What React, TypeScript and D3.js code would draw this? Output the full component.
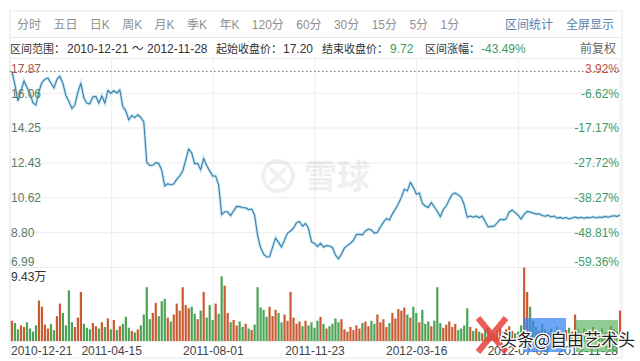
import * as d3 from 'd3';

const W = 640;
const H = 361;

const tabs = ['分时', '五日', '日K', '周K', '月K', '季K', '年K', '120分', '60分', '30分', '15分', '5分', '1分'];
const tools = ['区间统计', '全屏显示'];
const dateLabels = ['2010-12-21', '2011-04-15', '2011-08-01', '2011-11-23', '2012-03-16', '2012-07-09', '2012-11-28'];
const priceTicks = ['17.87', '16.06', '14.25', '12.43', '10.62', '8.80', '6.99'];
const pctTicks = ['3.92%', '-6.62%', '-17.17%', '-27.72%', '-38.27%', '-48.81%', '-59.36%'];
const startPrice = 17.2;
const endPrice = 9.72;
const changePct = '-43.49%';
const maxVolume = 9.43;

// daily closes (sampled), yuan
const closes = [
  17.2, 16.47, 15.66, 16.18, 16.71, 16.36, 16.06, 15.56, 15.45, 16.16,
  16.62, 16.79, 16.85, 16.59, 16.33, 16.78, 16.95, 16.57, 15.95, 15.64,
  15.26, 15.45, 16.12, 16.58, 15.81, 15.54, 15.51, 15.87, 15.9, 15.54,
  15.93, 15.54, 16.21, 16.06, 16.19, 16.07, 16.23, 15.36, 15.14, 14.67,
  14.9, 14.79, 14.94, 14.8, 14.57, 12.46, 12.3, 12.31, 12.45, 12.41,
  12.04, 11.23, 11.35, 11.3, 11.34, 11.58, 11.76, 12.01, 12.58, 13.16,
  12.96, 12.39, 12.41, 12.08, 12.67, 12.3, 12.02, 11.75, 11.75, 11.28,
  9.74, 9.89, 9.89, 9.69, 9.94, 10.17, 10.16, 10.1, 10.1, 10.0,
  10.04, 9.72, 8.66, 8.03, 7.69, 7.54, 7.55, 8.05, 8.52, 8.3,
  8.05, 8.42, 8.78, 8.89, 9.04, 9.32, 9.38, 9.14, 9.28, 9.03,
  8.32, 8.25, 8.08, 8.25, 8.05, 8.13, 8.11, 8.03, 7.64, 7.44,
  7.68, 8.01, 8.13, 8.25, 8.4, 8.71, 8.72, 8.69, 8.89, 8.99,
  8.94, 8.78, 8.81, 9.1, 9.34, 9.54, 9.46, 9.78, 10.02, 10.31,
  10.64, 11.07, 10.98, 11.42, 11.17, 10.81, 10.87, 10.34, 10.18, 10.12,
  10.37, 10.15, 9.92, 9.63, 10.01, 10.2, 10.52, 10.8, 10.87, 10.77,
  10.64, 10.24, 9.61, 9.67, 9.61, 9.67, 9.58, 9.67, 9.37, 9.1,
  9.13, 9.14, 9.32, 9.5, 9.47, 9.52, 9.88, 9.98, 9.85, 9.71,
  9.51, 9.76, 9.91, 9.88, 9.82, 9.77, 9.79, 9.7, 9.66, 9.71,
  9.62, 9.67, 9.56, 9.6, 9.54, 9.59, 9.52, 9.57, 9.62, 9.56,
  9.61, 9.55, 9.6, 9.58, 9.63, 9.57, 9.62, 9.6, 9.65, 9.61,
  9.66, 9.68, 9.65, 9.72,
];

// daily volume, 万手
const volumes = [
  2.6, 2.3, 1.5, 2.0, 1.8, 2.4, 1.6, 1.2, 2.0, 5.2,
  4.4, 2.1, 1.6, 2.2, 1.4, 3.2, 4.8, 3.6, 2.0, 6.5,
  2.4, 1.8, 3.0, 6.3, 2.2, 1.7, 1.5, 2.3, 1.9, 1.6,
  2.4, 1.8, 2.9, 1.5, 2.7, 1.4, 1.9, 2.2, 3.1, 1.7,
  1.3, 1.1, 1.5, 2.0, 3.4, 6.9, 2.8, 3.6, 4.9, 3.2,
  5.1, 5.4, 3.0, 2.5, 3.4, 4.8, 3.9, 6.9, 4.6, 4.2,
  4.4, 3.5, 2.8, 3.9, 6.3, 3.0, 4.6, 2.7, 4.8, 3.5,
  8.3, 7.1, 3.6, 2.4, 2.7, 2.0, 2.5, 1.8, 2.2, 1.6,
  1.4, 2.1, 6.9, 4.3, 4.0, 3.1, 4.4, 3.2, 4.0, 3.6,
  2.4, 3.4, 2.6, 6.3, 3.0, 2.2, 2.5, 1.9, 2.6, 2.0,
  2.4, 1.7, 2.6, 3.1, 2.2, 1.6, 1.9, 2.2, 2.9, 2.4,
  2.8, 1.5, 1.2, 1.8, 1.4, 2.0, 1.6, 2.3, 2.5, 1.9,
  2.6, 2.2, 3.4, 2.4, 2.8, 1.8, 2.3, 3.6, 2.9, 4.1,
  3.9, 4.3, 3.4, 3.0, 4.4, 3.6, 2.4, 4.0, 2.2, 2.5,
  1.9, 2.6, 6.9, 2.3, 1.7, 2.1, 2.5, 1.8, 2.2, 1.4,
  1.6, 2.0, 4.2, 1.8, 1.3, 1.6, 1.2, 1.0, 1.5, 1.7,
  1.1, 0.9, 1.3, 1.6, 1.2, 1.5, 1.9, 1.3, 1.0, 1.2,
  2.0, 9.43, 6.3, 4.4, 2.6, 1.8, 1.3, 2.2, 1.5, 1.1,
  1.6, 1.2, 1.8, 1.3, 1.0, 1.4, 1.7, 1.2, 3.4, 1.5,
  1.1, 1.6, 1.3, 1.0, 1.8, 1.4, 1.2, 1.6, 1.1, 1.3,
  1.9, 1.5, 1.2, 3.9,
];

const FONT = '"Liberation Sans", Arial, "Noto Sans CJK SC", sans-serif';
const RED = '#c9503a';
const GREEN = '#3f9a66';
const UP_BAR = '#c95a32';
const DOWN_BAR = '#4aa255';

// rough text width at 12px
const textW = (s: string) =>
  Array.from(s).reduce((w, c) => w + (/[0-9]/.test(c) ? 6.67 : /[A-Z]/.test(c) ? 8 : 12), 0);

const left = 10;
const right = 620;
const priceTop = 58.5;
const priceBottom = 267.5;
const volBottom = 341;

export default function App() {
  const x = d3.scaleLinear().domain([0, closes.length - 1]).range([12, right]);
  const y = d3.scaleLinear().domain([6.99, 17.87]).range([priceBottom, priceTop]);
  const yVol = d3.scaleLinear().domain([0, maxVolume]).range([volBottom, priceBottom]);
  const xDate = d3.scalePoint<string>().domain(dateLabels).range([left, right]);

  const line = d3
    .line<number>()
    .x((_, i) => x(i))
    .y((d) => y(d));
  const linePath = line(closes) || '';

  let tabX = 17;
  const tabPos = tabs.map((t) => {
    const p = tabX;
    tabX += textW(t) + 12.4;
    return p;
  });

  return (
    <div style={{ position: 'fixed', left: 0, top: 0, width: W, height: H, background: '#fff' }}>
      <svg width={W} height={H} style={{ display: 'block' }} fontFamily={FONT}>
        <rect width={W} height={H} fill="#fff" />

        {/* frame */}
        <rect x={left} y={11} width={right + 2 - left} height={347} fill="none" stroke="#e8e8e8" />
        <line x1={left} x2={right + 2} y1={37.5} y2={37.5} stroke="#e8e8e8" />

        {/* tab bar */}
        {tabs.map((t, i) => (
          <text key={t} x={tabPos[i]} y={29} fontSize={12} fill="#8f8f8f">
            {t}
          </text>
        ))}
        <text x={505} y={29} fontSize={12} fill="#5a82ad">
          {tools[0]}
        </text>
        <text x={566} y={29} fontSize={12} fill="#5a82ad">
          {tools[1]}
        </text>

        {/* info row */}
        <text y={53} fontSize={11} fill="#333">
          <tspan x={10}>区间范围：</tspan>
          <tspan x={67} fontSize={12}>{`${dateLabels[0]} ～ ${dateLabels[dateLabels.length - 1]}`}</tspan>
          <tspan x={216}>起始收盘价：</tspan>
          <tspan x={283} fontSize={12}>{startPrice.toFixed(2)}</tspan>
          <tspan x={322}>结束收盘价：</tspan>
          <tspan x={390} fontSize={12} fill={GREEN}>{endPrice.toFixed(2)}</tspan>
          <tspan x={425}>区间涨幅：</tspan>
          <tspan x={481} fontSize={12} fill={GREEN}>{changePct}</tspan>
        </text>
        <text x={616} y={53} fontSize={12} fill="#666" textAnchor="end">
          前复权
        </text>

        {/* grid */}
        {priceTicks.map((t) => (
          <line key={t} x1={left} x2={right} y1={y(+t)} y2={y(+t)} stroke="#ececec" />
        ))}
        {dateLabels.map((d) => (
          <line key={d} x1={xDate(d)} x2={xDate(d)} y1={priceTop} y2={volBottom} stroke="#ececec" />
        ))}
        <line x1={left} x2={right} y1={volBottom + 0.5} y2={volBottom + 0.5} stroke="#ececec" />

        {/* watermark */}
        <g opacity={0.06} fill="#000" stroke="#000">
          <circle cx={278} cy={176} r={15} fill="none" strokeWidth={4} />
          <path d="M270 168 L286 184 M286 168 L270 184" strokeWidth={3.5} fill="none" />
          <text x={304} y={188} fontSize={33} stroke="none" fontWeight="bold">
            雪球
          </text>
        </g>

        {/* start price reference */}
        <line
          x1={left}
          x2={right}
          y1={y(startPrice)}
          y2={y(startPrice)}
          stroke="#666"
          strokeDasharray="1.5,2.5"
        />

        {/* price line */}
        <path d={linePath} fill="none" stroke="#a9dcef" strokeWidth={3} strokeOpacity={0.7} />
        <path d={linePath} fill="none" stroke="#3e7fa6" strokeWidth={1.1} strokeLinejoin="round" />

        {/* y labels */}
        {priceTicks.map((t, i) => {
          const last = priceTicks.length - 1;
          const yy = i === 0 ? priceTop + 14.5 : i === last ? priceBottom - 2 : y(+t) + 4.3;
          return (
            <g key={t}>
              <text x={11} y={yy} fontSize={12} fill={i === 0 ? '#a5564b' : '#587c66'}>
                {t}
              </text>
              <text x={619} y={yy} fontSize={12} fill={i === 0 ? RED : GREEN} textAnchor="end">
                {pctTicks[i]}
              </text>
            </g>
          );
        })}

        {/* volume */}
        <text x={11} y={281} fontSize={12} fill="#333">
          {`${maxVolume}万`}
        </text>
        {volumes.map((v, i) => {
          const prev = i === 0 ? startPrice : closes[i - 1];
          const up = closes[i] >= prev;
          return (
            <rect
              key={i}
              x={x(i) - 1.1}
              y={yVol(v)}
              width={2.2}
              height={volBottom - yVol(v)}
              fill={up ? UP_BAR : DOWN_BAR}
            />
          );
        })}

        {/* date labels */}
        {dateLabels.map((d, i) => (
          <text
            key={d}
            x={i === 0 ? left + 1 : i === dateLabels.length - 1 ? right - 2 : xDate(d)}
            y={355}
            fontSize={12}
            fill="#444"
            textAnchor={i === 0 ? 'start' : i === dateLabels.length - 1 ? 'end' : 'middle'}
          >
            {d}
          </text>
        ))}

        {/* corner watermark */}
        <g>
          <path d="M478 318 L506 352 M506 318 L478 352" stroke="#e8413c" strokeWidth={6} opacity={0.85} />
          <rect x={524} y={318} width={42} height={34} fill="#3d86f0" opacity={0.75} />
          <rect x={576} y={320} width={42} height={32} fill="#53b05a" opacity={0.65} />
          <text
            x={500}
            y={346}
            fontSize={17}
            fill="#222"
            stroke="#fff"
            strokeWidth={2.5}
            paintOrder="stroke"
            fontFamily={'"Noto Sans CJK SC", sans-serif'}
          >
            头条@自由艺术头
          </text>
        </g>
      </svg>
    </div>
  );
}
